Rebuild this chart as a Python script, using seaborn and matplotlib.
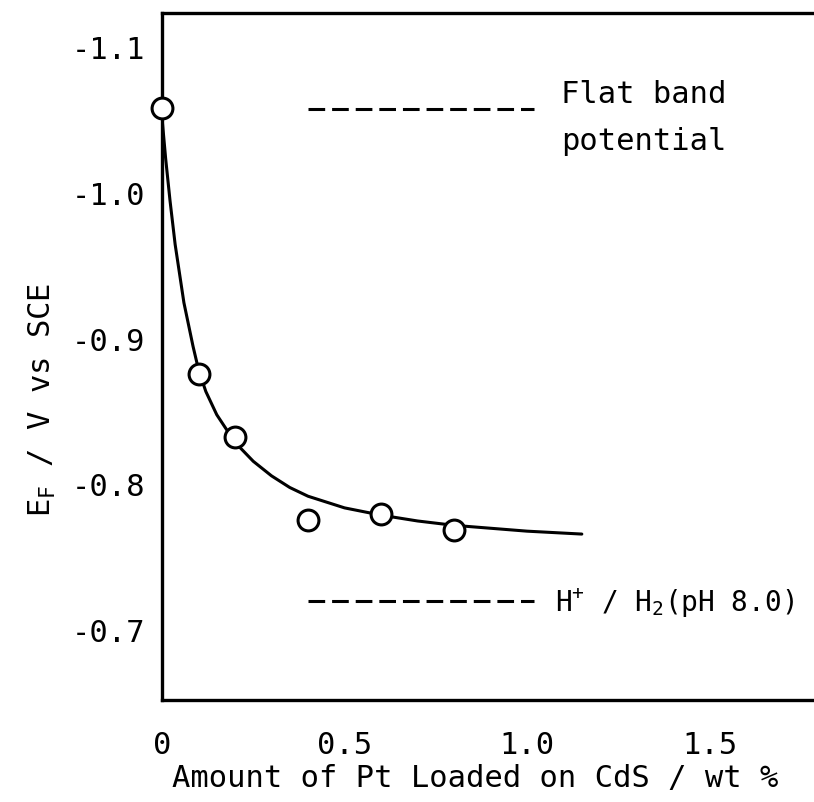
import matplotlib
matplotlib.use("Agg")
import matplotlib.pyplot as plt
import seaborn as sns

# measured points
pt_x = [0.0, 0.1, 0.2, 0.4, 0.6, 0.8]
pt_y = [-1.059, -0.876, -0.833, -0.776, -0.780, -0.769]

# fitted curve
curve_x = [0.0, 0.01, 0.022, 0.036, 0.06, 0.085, 0.1, 0.12, 0.15, 0.2, 0.25,
           0.3, 0.35, 0.4, 0.5, 0.6, 0.7, 0.8, 0.9, 1.0, 1.15]
curve_y = [-1.052, -1.024, -0.995, -0.965, -0.925, -0.895, -0.879, -0.864,
           -0.848, -0.829, -0.816, -0.806, -0.798, -0.792, -0.784, -0.779,
           -0.775, -0.772, -0.770, -0.768, -0.766]

# reference levels
flat_band_x = [0.40, 1.02]
flat_band_y = [-1.058, -1.058]
h2_x = [0.40, 1.02]
h2_y = [-0.720, -0.720]

x_ticks = [0, 0.5, 1.0, 1.5]
x_tick_labels = ["0", "0.5", "1.0", "1.5"]
y_ticks = [-1.1, -1.0, -0.9, -0.8, -0.7]
y_tick_labels = ["-1.1", "-1.0", "-0.9", "-0.8", "-0.7"]

sns.set_theme(style="white")
plt.rcParams['font.family'] = ['DejaVu Sans Mono', 'DejaVu Sans']
plt.rcParams['mathtext.fontset'] = 'custom'
plt.rcParams['mathtext.rm'] = 'DejaVu Sans Mono'
plt.rcParams['mathtext.it'] = 'DejaVu Sans Mono'
plt.rcParams['mathtext.bf'] = 'DejaVu Sans Mono'
plt.rcParams['text.color'] = 'black'

fig = plt.figure(figsize=(8.14, 8.02), dpi=100)
ax = fig.add_axes([162 / 814, 102 / 802, 1 - 162 / 814, 687 / 802])

lw = 2.2
sns.lineplot(x=curve_x, y=curve_y, ax=ax, color="black", lw=lw, sort=False,
             estimator=None)
sns.lineplot(x=flat_band_x, y=flat_band_y, ax=ax, color="black", lw=lw,
             estimator=None)
sns.lineplot(x=h2_x, y=h2_y, ax=ax, color="black", lw=lw, estimator=None)
for l in ax.lines[1:]:
    l.set_dashes((12 / lw, 5 / lw))

ax.plot(pt_x, pt_y, ls="none", marker="o", ms=15, mfc="white", mec="black",
        mew=2.2, zorder=5, clip_on=False)

ax.set_xlim(0, 1.786)
ax.set_ylim(-0.652, -1.124)

ax.set_xticks(x_ticks)
ax.set_xticklabels(x_tick_labels)
ax.set_yticks(y_ticks)
ax.set_yticklabels(y_tick_labels)
ax.tick_params(axis="both", direction="in", length=14, width=2.2,
               colors="black", labelcolor="black", labelsize=22)
ax.tick_params(axis="x", pad=22)
ax.tick_params(axis="y", pad=12)
ax.tick_params(axis="x", which="both", top=False)
ax.tick_params(axis="y", which="both", right=False)

for s in ["left", "bottom", "top"]:
    ax.spines[s].set_linewidth(2.4)
    ax.spines[s].set_color("black")
ax.spines["right"].set_visible(False)

ax.text(1.093, -1.068, "Flat band", fontsize=22, va="center", ha="left",
        color="black")
ax.text(1.093, -1.036, "potential", fontsize=22, va="center", ha="left",
        color="black")
ax.text(1.077, -0.7125, r"H$^{\mathrm{+}}$ / H$_{\mathrm{2}}$(pH 8.0)",
        fontsize=20, va="baseline", ha="left", color="black")

fig.text(475 / 814, 1 - 778 / 802, "Amount of Pt Loaded on CdS / wt %",
         fontsize=22, ha="center", va="center", color="black")
fig.text(42 / 814, 1 - 400 / 802, r"E$_{\mathrm{F}}$ / V vs SCE",
         fontsize=22, ha="center", va="center", rotation=90, color="black")

ax.set_xlabel("")
ax.set_ylabel("")
fig.savefig("out.png", dpi=100)
